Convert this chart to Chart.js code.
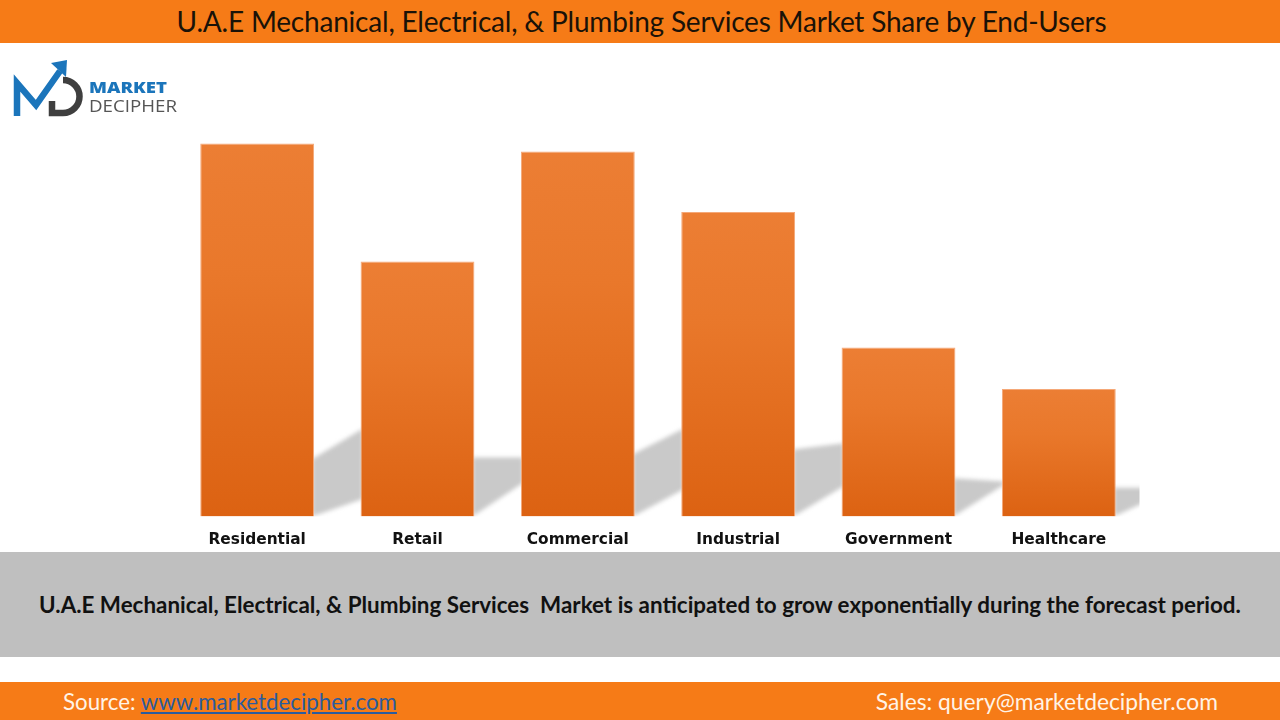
<!DOCTYPE html>
<html><head><meta charset="utf-8">
<script src="https://cdn.jsdelivr.net/npm/chart.js@4"></script>
<style>
html,body{margin:0;padding:0;background:#fff;width:1280px;height:720px;overflow:hidden;font-family:Lato,sans-serif}
.abs{position:absolute}
#top{left:0;top:0;width:1280px;height:43px;background:#f67b17}
#title{left:0;top:0;width:1283px;height:43px;line-height:42px;text-align:center;font-size:28px;letter-spacing:-0.2px;color:#1a1208;white-space:pre}
#band{left:0;top:552px;width:1280px;height:105px;background:#bfbfbf}
#note{left:0;top:552px;width:1280px;height:105px;line-height:105px;text-align:center;font-size:22.4px;font-weight:700;color:#111;white-space:pre}
#foot{left:0;top:682px;width:1280px;height:38px;background:#f67b17}
.ft{top:682px;height:38px;line-height:39px;color:#fff3e6;white-space:pre}
.ft a{color:#2b5c9e;text-decoration:underline}
#wrap{left:0;top:43px;width:1280px;height:514px}
#logo{left:0;top:50px}
</style></head><body>
<div class="abs" id="top"></div>
<div class="abs" id="title">U.A.E Mechanical, Electrical, &amp; Plumbing Services Market Share by End-Users</div>
<div class="abs" id="wrap"><canvas id="c" width="1280" height="514"></canvas></div>
<svg class="abs" id="logo" width="190" height="75" viewBox="0 50 190 75">
  <polyline points="17,116 17,83 36,105 60,71" fill="none" stroke="#1b75bb" stroke-width="6.5" stroke-linejoin="miter"/>
  <polygon points="51,63 67,60 66,77" fill="#1b75bb"/>
  <path d="M52 101 V113 H63 A16.5 16.5 0 0 0 63 80" fill="none" stroke="#3f3f3f" stroke-width="6.5"/>
  <text x="89" y="93" font-family="Open Sans" font-weight="800" font-size="15" fill="#1b75bb" textLength="78" lengthAdjust="spacingAndGlyphs">MARKET</text>
  <text x="89" y="112" font-family="Open Sans" font-weight="400" font-size="16.5" fill="#555" textLength="88" lengthAdjust="spacingAndGlyphs">DECIPHER</text>
</svg>
<div class="abs" id="band"></div>
<div class="abs" id="note">U.A.E Mechanical, Electrical, &amp; Plumbing Services  Market is anticipated to grow exponentially during the forecast period.</div>
<div class="abs" id="foot"></div>
<div class="abs ft" style="left:63px;font-size:22.3px">Source: <a>www.marketdecipher.com</a></div>
<div class="abs ft" style="right:62px;font-size:22.8px">Sales: query@marketdecipher.com</div>
<script>
const categories = ["Residential","Retail","Commercial","Industrial","Government","Healthcare"];
const shareValues = [23.4,16.0,22.9,19.1,10.6,8.0];
const shadowStart = [3.6,3.7,3.9,4.2,2.4,1.8];
const shadowEnd = [5.5,3.7,5.5,4.6,2.2,1.8];
const shadowFloor = [1.1,2.1,1.7,1.9,2.0,0.9];

const shadowPlugin = {
  id:'shadowPlugin',
  beforeDatasetsDraw(chart){
    const {ctx,chartArea,scales:{y}} = chart;
    const bars = chart.getDatasetMeta(0).data;
    ctx.save();
    ctx.beginPath();
    ctx.rect(chartArea.left,chartArea.top,chartArea.right-chartArea.left+0.5,chartArea.bottom-chartArea.top);
    ctx.clip();
    ctx.filter='blur(2px)';
    ctx.fillStyle='#c9c9c9';
    bars.forEach((b,i)=>{
      const r=b.x+b.width/2;
      const l=i<bars.length-1 ? bars[i+1].x-bars[i+1].width/2+2 : chartArea.right+6;
      ctx.beginPath();
      ctx.moveTo(r-2,y.getPixelForValue(0));
      ctx.lineTo(r-2,y.getPixelForValue(shadowStart[i]));
      ctx.lineTo(l,y.getPixelForValue(shadowEnd[i]));
      ctx.lineTo(l,y.getPixelForValue(shadowFloor[i]));
      ctx.closePath();
      ctx.fill();
    });
    ctx.restore();
  }
};

new Chart(document.getElementById('c'),{
  type:'bar',
  data:{labels:categories,datasets:[{
    data:shareValues,
    barPercentage:0.71,
    categoryPercentage:1,
    borderWidth:1,
    borderColor:'#f5a878',
    backgroundColor(ctx){
      const {chart,dataIndex}=ctx;
      const a=chart.chartArea;
      if(!a) return '#e56f20';
      const y=chart.scales.y;
      const g=chart.ctx.createLinearGradient(0,y.getPixelForValue(shareValues[dataIndex]),0,y.getPixelForValue(0));
      g.addColorStop(0,'#ec7e34');
      g.addColorStop(0.35,'#e9782b');
      g.addColorStop(1,'#dc6212');
      return g;
    }
  }]},
  options:{
    responsive:false,animation:false,
    layout:{padding:{left:177,right:141,top:75,bottom:2}},
    plugins:{legend:{display:false},tooltip:{enabled:false},title:{display:false}},
    scales:{
      x:{grid:{display:false},border:{display:false},
         ticks:{autoSkip:false,maxRotation:0,padding:6,color:'#111',font:{family:'DejaVu Sans',size:15.4,weight:'700'}}},
      y:{display:false,min:0,max:25}
    }
  },
  plugins:[shadowPlugin]
});
</script>
</body></html>
